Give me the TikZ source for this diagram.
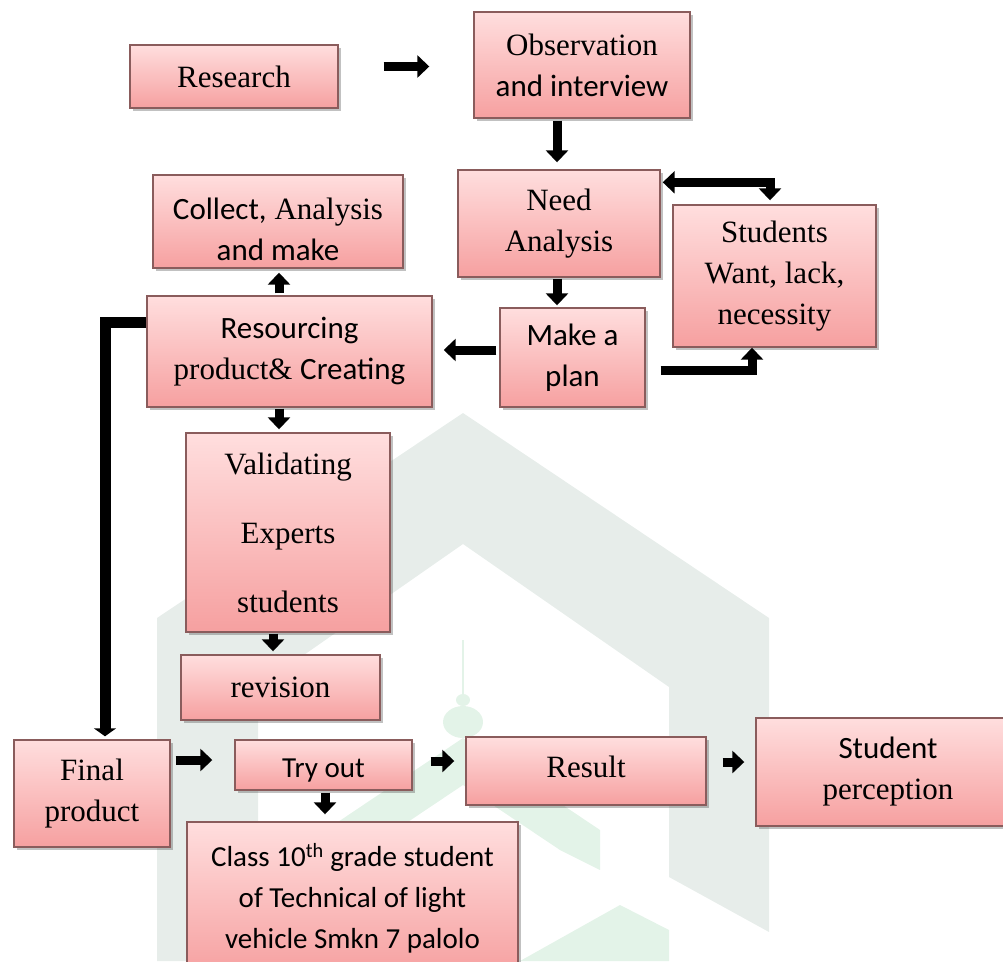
\documentclass[tikz,border=0pt]{standalone}
\usepackage{fontspec}
\setmainfont{Liberation Serif}
\newfontfamily\cf{Carlito}
\usetikzlibrary{shadows,arrows.meta}
\definecolor{pinktop}{HTML}{FFDEDE}
\definecolor{pinkbot}{HTML}{F6A0A0}
\definecolor{boxline}{HTML}{8A5C5C}
\definecolor{wmgray}{HTML}{E7EDEA}
\definecolor{wmgreen}{HTML}{E3F3E8}
\tikzset{
  box/.style={draw=boxline, line width=1.4pt, top color=pinktop, bottom color=pinkbot,
    rectangle, inner sep=0pt, align=center, text=black,
    font=\fontsize{31}{41}\selectfont,
    drop shadow={shadow xshift=3pt, shadow yshift=-3pt, opacity=0.35, fill=black!70}},
  txt/.style={inner sep=0pt, align=center, text=black, font=\fontsize{31}{41}\selectfont},
  arr/.style={line width=9pt, -{Triangle[length=12pt,width=22pt]}},
  arrb/.style={line width=9pt, {Triangle[length=12pt,width=22pt]}-{Triangle[length=12pt,width=22pt]}},
  longarr/.style={line width=11pt, -{Triangle[length=8pt,width=22pt]}}
}
\begin{document}
\begin{tikzpicture}[x=1pt,y=-1pt]
\useasboundingbox (0,0) rectangle (1003,961);
% watermark
\fill[wmgray] (157,961) -- (157,618) -- (463,413) -- (769,618) -- (769,932) -- (669,877)
  -- (669,687) -- (463,544) -- (258,687) -- (258,961) -- cycle;
\fill[wmgreen] (463,738) -- (600,830) -- (600,870) -- (560,850) -- (463,785) -- (366,850) -- (326,870) -- (326,830) -- cycle;
\fill[wmgreen] (463,722) ellipse (20 and 16);
\fill[wmgreen] (463,700) ellipse (7 and 6);
\draw[wmgreen, line width=2pt] (463,640) -- (463,700);
\fill[wmgreen] (520,961) -- (620,905) -- (669,930) -- (669,961) -- cycle;

% boxes
\node[box, minimum width=208, minimum height=63] (research) at (234,76.5) {Research};
\node[box, minimum width=216, minimum height=106] (obs) at (582,65) {Observation\\{\cf and interview}};
\node[box, minimum width=202, minimum height=107] (need) at (559,223.5) {Need\\Analysis};
\node[box, minimum width=203, minimum height=142] (students) at (774.5,276) {Students\\Want, lack,\\necessity};
\node[box, minimum width=145, minimum height=99] (plan) at (572.5,357.5) {\cf Make a\\\cf plan};
\node[box, minimum width=250, minimum height=93] (collect) at (278,221.5) {};
\node[txt] (collect-t) at (278,229) {{\cf Collect,} Analysis\\{\cf and make}};
\node[box, minimum width=285, minimum height=111] (resourcing) at (289.5,351.5) {\cf Resourcing\\product\& {\cf Creating}};
\node[box, minimum width=204, minimum height=199, font=\fontsize{31}{69}\selectfont] (validating) at (288,532.5) {Validating\\Experts\\students};
\node[box, minimum width=199, minimum height=65] (revision) at (280.5,687.5) {revision};
\node[box, minimum width=156, minimum height=107] (final) at (92,793.5) {Final\\product};
\node[box, minimum width=177, minimum height=50] (tryout) at (323.5,765) {};
\node[txt, font=\fontsize{29}{41}\selectfont\cf] (tryout-t) at (323.5,771) {Try out};
\node[box, minimum width=331, minimum height=153, font=\fontsize{29}{41}\selectfont\cf] (class) at (352.5,898.5) {Class 10\textsuperscript{th} grade student\\of Technical of light\\vehicle Smkn 7 palolo};
\node[box, minimum width=240, minimum height=68] (result) at (586,771) {};
\node[txt] (result-t) at (586,767) {Result};
\node[box, minimum width=264, minimum height=108] (perception) at (888,772) {{\cf Student}\\perception};

% connectors
\draw[arr, shorten <=45pt, shorten >=44pt] ([yshift=10]research.east) -- ([yshift=10]research.east -| obs.west);
\draw[arr, shorten <=2pt, shorten >=7pt] ([xshift=-25]obs.south) -- ([xshift=-25]obs.south |- need.north);
\draw[arrb, shorten <=2pt, shorten >=4pt] ([yshift=-13]need.north east) -| ([xshift=-4.5]students.north);
\draw[arr, shorten <=1pt, shorten >=2pt] ([xshift=-2]need.south) -- ([xshift=-2]need.south |- plan.north);
\draw[arr, shorten <=15pt, shorten >=0pt] ([yshift=-12.5]plan.east) -| ([xshift=-22.5]students.south);
\draw[arr, shorten <=3pt, shorten >=11pt] ([yshift=7.5]plan.west) -- ([yshift=7.5]plan.west -| resourcing.east);
\draw[arr, shorten <=2pt, shorten >=4pt] ([xshift=-10.5]resourcing.north) -- ([xshift=-10.5]resourcing.north |- collect.south);
\draw[arr, shorten <=1pt, shorten >=3pt] ([xshift=-10.5]resourcing.south) -- ([xshift=-10.5]resourcing.south |- validating.north);
\draw[arr, shorten <=1pt, shorten >=3pt] ([xshift=-15]validating.south) -- ([xshift=-15]validating.south |- revision.north);
\draw[longarr, shorten <=0pt, shorten >=3pt] ([yshift=29.5]resourcing.west) -| ([xshift=13]final.north);
\draw[arr, shorten <=5pt, shorten >=22pt] ([yshift=33.5]final.east) -- ([yshift=33.5]final.east -| tryout.west);
\draw[arr, shorten <=2pt, shorten >=7pt] ([xshift=1.5]tryout.south) -- ([xshift=1.5]tryout.south |- class.north);
\draw[arr, shorten <=18pt, shorten >=11pt] ([yshift=4]tryout.east) -- ([yshift=4]tryout.east -| result.west);
\draw[arr, shorten <=16pt, shorten >=11pt] ([yshift=9]result.east) -- ([yshift=9]result.east -| perception.west);
\end{tikzpicture}
\end{document}
